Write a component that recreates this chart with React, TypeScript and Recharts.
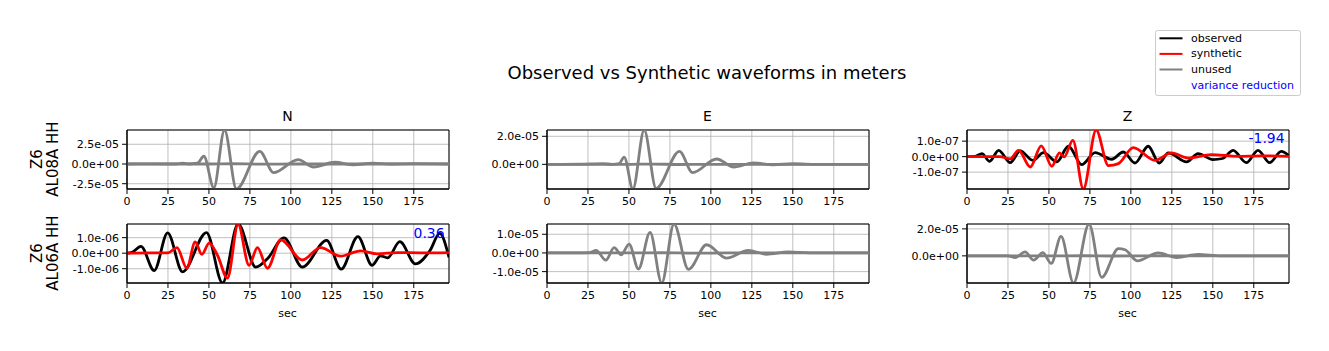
import React from 'react';
import { LineChart, Line, XAxis, YAxis, CartesianGrid, ReferenceArea } from 'recharts';

// ---------- data (time in sec, displacement in meters) ----------
const X_TICKS = [0, 25, 50, 75, 100, 125, 150, 175];
const X_MAX = 196.5;

const COMPONENTS = ['N', 'E', 'Z'];
const STATIONS = [
  ['Z6', 'AL08A HH'],
  ['Z6', 'AL06A HH'],
];
const VARIANCE_REDUCTION = { top: '-1.94', bottom: '0.36' };

// row 1 (AL08A)
const nTopObserved: [number, number][] = [
  [0, 0], [15, 0.01e-5], [30, 0], [34, 0.1e-5], [38, 0], [43, 0.1e-5], [46.9, 0.98e-5], [53, -3.0e-5],
  [59.5, 4.31e-5], [66.8, -3.17e-5], [81, 1.61e-5], [89.5, -1.09e-5], [104.4, 0.56e-5], [113.9, -0.38e-5],
  [127, 0.22e-5], [138, -0.1e-5], [150, 0.1e-5], [160, 0], [175, 0.05e-5], [196.5, 0],
];
const nTopSynthetic: [number, number][] = [
  [0, 0], [50, 0], [65, 0.03e-5], [80, -0.02e-5], [100, 0], [196.5, 0],
];
const eTopObserved: [number, number][] = [
  [0, 0], [20, 0.01e-5], [34, 0.05e-5], [40, 0], [44, 0.05e-5], [47.1, 0.52e-5], [52.4, -1.76e-5],
  [59.3, 2.45e-5], [66.6, -1.72e-5], [80.8, 0.93e-5], [88.9, -0.59e-5], [103.5, 0.38e-5], [114, -0.19e-5],
  [126, 0.1e-5], [138, -0.03e-5], [150, 0.04e-5], [165, 0], [196.5, 0],
];
const eTopSynthetic: [number, number][] = [
  [0, 0], [50, 0], [65, 0.02e-5], [80, -0.01e-5], [100, 0], [196.5, 0],
];
const zTopObserved: [number, number][] = [
  [0, 0], [5, 0.02e-7], [9.1, 0.19e-7], [13.8, -0.3e-7], [19.3, 0.41e-7], [26.4, -0.39e-7], [32.5, 0.37e-7],
  [40.2, -0.24e-7], [46.7, 0.26e-7], [54.8, -0.34e-7], [61.9, 0.67e-7], [70, -0.52e-7], [78.2, 0.26e-7],
  [88.3, -0.17e-7], [95.4, 0.3e-7], [102.5, -0.41e-7], [110.6, 0.67e-7], [117.3, -0.41e-7], [122.8, 0.24e-7],
  [134, -0.34e-7], [141, 0.19e-7], [150, -0.19e-7], [156, -0.12e-7], [162.4, 0.41e-7], [170.5, -0.39e-7],
  [177.6, 0.41e-7], [184.7, -0.39e-7], [191.8, 0.34e-7], [196.5, 0.05e-7],
];
const zTopSynthetic: [number, number][] = [
  [0, 0], [20, 0], [26.4, -0.15e-7], [31.5, 0.41e-7], [38.6, -0.67e-7], [45.3, 0.69e-7], [51.8, -0.62e-7],
  [56.4, 0.24e-7], [59.3, -0.02e-7], [64.6, 1.05e-7], [71, -2.09e-7], [78.8, 1.72e-7], [86.3, -0.58e-7],
  [92.4, -0.45e-7], [101.5, 0.58e-7], [114.7, -0.24e-7], [124.8, 0.24e-7], [135, -0.09e-7], [149, 0.13e-7],
  [165, 0.02e-7], [180, 0.05e-7], [196.5, 0.02e-7],
];

// row 2 (AL06A)
const nBottomObserved: [number, number][] = [
  [0, 0], [3, 0.05e-6], [8.5, 0.44e-6], [16.6, -1.12e-6], [24.8, 1.31e-6], [33.9, -1.2e-6], [48.5, 1.33e-6],
  [58.3, -1.92e-6], [67.8, 1.88e-6], [78.6, -0.9e-6], [85.7, -0.36e-6], [95.8, 0.99e-6], [107, -0.9e-6],
  [121.8, 0.82e-6], [130.7, -1.03e-6], [140.9, 1.07e-6], [149.6, -0.78e-6], [154.7, -0.17e-6], [159, -0.3e-6],
  [166.5, 0.74e-6], [176, -0.69e-6], [185, 0.19e-6], [190.8, 1.28e-6], [196.5, -0.27e-6],
];
const nBottomSynthetic: [number, number][] = [
  [0, 0], [15, 0.02e-6], [25, 0.02e-6], [30.5, 0.36e-6], [36.5, -0.97e-6], [41.6, 0.72e-6], [45.7, -0.08e-6],
  [50.1, 0.65e-6], [55.2, -0.13e-6], [61.3, -1.6e-6], [67.8, 1.85e-6], [74.5, -0.78e-6], [79.6, 0.36e-6],
  [85.7, -0.97e-6], [93.8, 0.86e-6], [107, -0.44e-6], [118.1, 0.36e-6], [130.3, -0.19e-6], [142.5, 0.15e-6],
  [152.7, -0.04e-6], [165, 0.04e-6], [180, 0.02e-6], [196.5, 0.04e-6],
];
const eBottomObserved: [number, number][] = [
  [0, 0], [20, 0], [26, 0.02e-5], [30, 0.14e-5], [35.9, -0.39e-5], [41, 0.28e-5], [45.3, -0.1e-5],
  [50.1, 0.47e-5], [55.8, -0.86e-5], [62.9, 1.1e-5], [70, -1.61e-5], [77.5, 1.55e-5], [86.3, -0.88e-5],
  [97.4, 0.44e-5], [109.6, -0.28e-5], [122.8, 0.14e-5], [134, -0.07e-5], [147.2, 0.05e-5], [160, 0], [196.5, 0],
];
const eBottomSynthetic: [number, number][] = [
  [0, 0], [50, 0], [70, 0.01e-5], [90, -0.01e-5], [110, 0], [196.5, 0],
];
const zBottomObserved: [number, number][] = [
  [0, 0], [25, 0], [29.4, -0.12e-5], [35.5, 0.29e-5], [40.6, -0.32e-5], [46.3, 0.24e-5], [51.4, -0.56e-5],
  [57.4, 1.44e-5], [65, -2.01e-5], [74.5, 2.36e-5], [82.2, -1.59e-5], [92.4, 0.54e-5], [96.5, 0.45e-5],
  [103.9, -0.37e-5], [116.7, 0.22e-5], [127.9, -0.12e-5], [141, 0.1e-5], [155, 0], [196.5, 0],
];
const zBottomSynthetic: [number, number][] = [
  [0, 0], [50, 0], [70, 0.01e-5], [90, -0.01e-5], [110, 0], [196.5, 0],
];

// axis limits and tick values
const N_TOP_Y = [-3.17e-5, 4.31e-5];
const E_TOP_Y = [-1.76e-5, 2.45e-5];
const Z_TOP_Y = [-2.09e-7, 1.72e-7];
const N_BOTTOM_Y = [-1.92e-6, 1.88e-6];
const E_BOTTOM_Y = [-1.61e-5, 1.55e-5];
const Z_BOTTOM_Y = [-2.01e-5, 2.36e-5];

const N_TOP_TICKS = [-2.5e-5, 0, 2.5e-5];
const E_TOP_TICKS = [0, 2e-5];
const Z_TOP_TICKS = [-1e-7, 0, 1e-7];
const N_BOTTOM_TICKS = [-1e-6, 0, 1e-6];
const E_BOTTOM_TICKS = [-1e-5, 0, 1e-5];
const Z_BOTTOM_TICKS = [0, 2e-5];

const LEGEND_ITEMS = [
  { label: 'observed', color: '#000000' },
  { label: 'synthetic', color: '#ff0000' },
  { label: 'unused', color: '#808080' },
];

// ---------- styling / layout ----------
const GRAY = '#808080';
const BLACK = '#000000';
const RED = '#ff0000';
const FONT = '"DejaVu Sans", sans-serif';

const PLOT_W = 322;
const PLOT_H = 59;
const Y_AXIS_W = 100;
const M_TOP = 5;
const M_RIGHT = 10;
const X_AXIS_H = 30;

const COL_LEFT = [126.5, 546.5, 966.5];
const ROW_TOP = [129.5, 223.5];

const toRows = (pairs: [number, number][]) => pairs.map(([t, v]) => ({ t, v }));

const sci = (v: number) => {
  if (v === 0) return '0.0e+00';
  const [m, e] = v.toExponential(1).split('e');
  const n = parseInt(e, 10);
  return `${m}e${n < 0 ? '-' : '+'}${String(Math.abs(n)).padStart(2, '0')}`;
};

type PanelDef = {
  col: number;
  row: number;
  obs: [number, number][];
  syn: [number, number][];
  obsColor: string;
  synColor: string;
  yDomain: number[];
  yTicks: number[];
};

const PANELS: PanelDef[] = [
  { col: 0, row: 0, obs: nTopObserved, syn: nTopSynthetic, obsColor: GRAY, synColor: GRAY, yDomain: N_TOP_Y, yTicks: N_TOP_TICKS },
  { col: 1, row: 0, obs: eTopObserved, syn: eTopSynthetic, obsColor: GRAY, synColor: GRAY, yDomain: E_TOP_Y, yTicks: E_TOP_TICKS },
  { col: 2, row: 0, obs: zTopObserved, syn: zTopSynthetic, obsColor: BLACK, synColor: RED, yDomain: Z_TOP_Y, yTicks: Z_TOP_TICKS },
  { col: 0, row: 1, obs: nBottomObserved, syn: nBottomSynthetic, obsColor: BLACK, synColor: RED, yDomain: N_BOTTOM_Y, yTicks: N_BOTTOM_TICKS },
  { col: 1, row: 1, obs: eBottomObserved, syn: eBottomSynthetic, obsColor: GRAY, synColor: GRAY, yDomain: E_BOTTOM_Y, yTicks: E_BOTTOM_TICKS },
  { col: 2, row: 1, obs: zBottomObserved, syn: zBottomSynthetic, obsColor: GRAY, synColor: GRAY, yDomain: Z_BOTTOM_Y, yTicks: Z_BOTTOM_TICKS },
];

function Panel({ p }: { p: PanelDef }) {
  const left = COL_LEFT[p.col];
  const top = ROW_TOP[p.row];
  const tickStyle = { fontSize: 11, fill: '#000', fontFamily: FONT };
  return (
    <div style={{ position: 'absolute', left: left - Y_AXIS_W, top: top - M_TOP }}>
      <LineChart
        width={Y_AXIS_W + PLOT_W + M_RIGHT}
        height={M_TOP + PLOT_H + X_AXIS_H}
        margin={{ top: M_TOP, right: M_RIGHT, bottom: 0, left: 0 }}
      >
        <CartesianGrid stroke="#b0b0b0" strokeWidth={0.8} />
        <XAxis
          type="number"
          dataKey="t"
          domain={[0, X_MAX]}
          ticks={X_TICKS}
          interval={0}
          allowDataOverflow
          height={X_AXIS_H}
          tick={tickStyle}
          tickSize={5}
          tickMargin={3}
          tickLine={{ stroke: '#000' }}
          axisLine={{ stroke: '#000' }}
        />
        <YAxis
          type="number"
          domain={p.yDomain}
          ticks={p.yTicks}
          interval={0}
          allowDataOverflow
          width={Y_AXIS_W}
          tick={tickStyle}
          tickFormatter={sci}
          tickSize={5}
          tickMargin={3}
          tickLine={{ stroke: '#000' }}
          axisLine={{ stroke: '#000' }}
        />
        <Line
          data={toRows(p.obs)}
          dataKey="v"
          type="monotone"
          stroke={p.obsColor}
          strokeWidth={2.8}
          dot={false}
          activeDot={false}
          isAnimationActive={false}
        />
        <Line
          data={toRows(p.syn)}
          dataKey="v"
          type="monotone"
          stroke={p.synColor}
          strokeWidth={2.8}
          dot={false}
          activeDot={false}
          isAnimationActive={false}
        />
        <ReferenceArea
          x1={0}
          x2={X_MAX}
          y1={p.yDomain[0]}
          y2={p.yDomain[1]}
          fill="none"
          fillOpacity={0}
          stroke="#000"
          strokeWidth={1}
          strokeOpacity={1}
        />
      </LineChart>
    </div>
  );
}

export default function App() {
  return (
    <div style={{ position: 'absolute', left: 0, top: 0, width: 1329, height: 351, background: '#fff', fontFamily: FONT }}>
      {PANELS.map((p, i) => (
        <Panel key={i} p={p} />
      ))}
      <svg width={1329} height={351} style={{ position: 'absolute', left: 0, top: 0, pointerEvents: 'none' }} fontFamily={FONT}>
        <text x={707} y={72} fontSize={18} textAnchor="middle" dominantBaseline="central" fill="#000">
          Observed vs Synthetic waveforms in meters
        </text>
        {COMPONENTS.map((c, i) => (
          <text key={c} x={COL_LEFT[i] + PLOT_W / 2} y={116} fontSize={14} textAnchor="middle" dominantBaseline="central" fill="#000">
            {c}
          </text>
        ))}
        {STATIONS.map((s, r) => {
          const cy = ROW_TOP[r] + PLOT_H / 2;
          return (
            <g key={r}>
              <text x={37} y={cy} fontSize={15} textAnchor="middle" dominantBaseline="central" fill="#000" transform={`rotate(-90 37 ${cy})`}>
                {s[0]}
              </text>
              <text x={52.5} y={cy} fontSize={15} textAnchor="middle" dominantBaseline="central" fill="#000" transform={`rotate(-90 52.5 ${cy})`}>
                {s[1]}
              </text>
            </g>
          );
        })}
        {COL_LEFT.map((l, i) => (
          <text key={i} x={l + PLOT_W / 2} y={313} fontSize={11} textAnchor="middle" dominantBaseline="central" fill="#000">
            sec
          </text>
        ))}
        <text x={COL_LEFT[2] + PLOT_W - 4} y={138} fontSize={13.9} textAnchor="end" dominantBaseline="central" fill="#0000ff">
          {VARIANCE_REDUCTION.top}
        </text>
        <text x={COL_LEFT[0] + PLOT_W - 4} y={233} fontSize={13.9} textAnchor="end" dominantBaseline="central" fill="#0000ff">
          {VARIANCE_REDUCTION.bottom}
        </text>
        {/* legend */}
        <rect x={1155.5} y={30.5} width={145} height={65} rx={2} fill="#fff" fillOpacity={0.8} stroke="#cccccc" strokeWidth={1} />
        {LEGEND_ITEMS.map((it, i) => {
          const y = 38.3 + i * 15.6;
          return (
            <g key={it.label}>
              <line x1={1159.5} x2={1182.5} y1={y} y2={y} stroke={it.color} strokeWidth={2} />
              <text x={1191} y={y} fontSize={11} dominantBaseline="central" fill="#000">
                {it.label}
              </text>
            </g>
          );
        })}
        <text x={1191} y={85} fontSize={11} dominantBaseline="central" fill="#0000ff">
          variance reduction
        </text>
      </svg>
    </div>
  );
}
